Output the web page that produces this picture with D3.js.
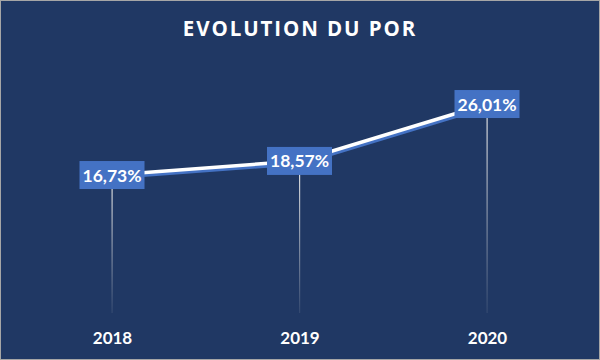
<!DOCTYPE html>
<html><head><meta charset="utf-8">
<script src="https://cdn.jsdelivr.net/npm/d3@7"></script>
<style>html,body{margin:0;padding:0;background:#fff;}svg{display:block;}</style>
</head><body>
<script>
const years = ["2018", "2019", "2020"];
const porValues = [16.73, 18.57, 26.01];
const valueLabels = ["16,73%", "18,57%", "26,01%"];
const chartTitle = "EVOLUTION DU POR";

const W = 600, H = 360;
const svg = d3.select("body").append("svg").attr("width", W).attr("height", H);
const defs = svg.append("defs");
const grad = defs.append("linearGradient").attr("id", "dropGrad")
  .attr("x1", 0).attr("y1", 0).attr("x2", 0).attr("y2", 1);
grad.append("stop").attr("offset", "0%").attr("stop-color", "#e8e8e8").attr("stop-opacity", 1);
grad.append("stop").attr("offset", "100%").attr("stop-color", "#d9d9d9").attr("stop-opacity", 0.1);

svg.append("rect").attr("x", 0.5).attr("y", 0.5).attr("width", W - 1).attr("height", H - 1)
  .attr("fill", "#203864").attr("stroke", "#a6a6a6").attr("stroke-width", 1);

svg.append("text").attr("x", 300).attr("y", 36).attr("text-anchor", "middle")
  .attr("font-family", "'Open Sans', sans-serif").attr("font-weight", 700)
  .attr("font-size", 20.5).attr("letter-spacing", 1.9).attr("fill", "#ffffff").text(chartTitle);

const x = d3.scalePoint().domain(years).range([112, 487]);
const y = d3.scaleLinear().domain([0, 30]).range([303, 73.5]);
const baseY = 313;

const xAxis = svg.append("g").attr("transform", `translate(0,${baseY})`)
  .call(d3.axisBottom(x).tickSize(0).tickPadding(19));
xAxis.select(".domain").remove();
xAxis.selectAll("text").attr("font-family", "Lato, sans-serif").attr("font-weight", 700)
  .attr("font-size", 17).attr("fill", "#ffffff");

const data = years.map((yr, i) => ({ yr, v: porValues[i], lab: valueLabels[i] }));

svg.selectAll(".drop").data(data).enter().append("rect")
  .attr("x", d => x(d.yr) - 0.5).attr("y", d => y(d.v))
  .attr("width", 1.2).attr("height", d => baseY - y(d.v))
  .attr("fill", "url(#dropGrad)");

const line = d3.line().x(d => x(d.yr)).y(d => y(d.v));
svg.append("path").datum(data).attr("d", line)
  .attr("transform", "translate(1,2.5)")
  .attr("fill", "none").attr("stroke", "#4472c4").attr("stroke-width", 3.5);
svg.append("path").datum(data).attr("d", line)
  .attr("fill", "none").attr("stroke", "#ffffff").attr("stroke-width", 3.5);

const lab = svg.selectAll(".lab").data(data).enter().append("g")
  .attr("transform", d => `translate(${x(d.yr)},${y(d.v)})`);
lab.append("rect").attr("x", -32.5).attr("y", -14).attr("width", 65).attr("height", 28)
  .attr("fill", "#4472c4");
lab.append("text").attr("text-anchor", "middle").attr("y", 6.5)
  .attr("font-family", "Lato, sans-serif").attr("font-weight", 700)
  .attr("font-size", 17.5).attr("fill", "#ffffff").text(d => d.lab);
</script>
</body></html>
